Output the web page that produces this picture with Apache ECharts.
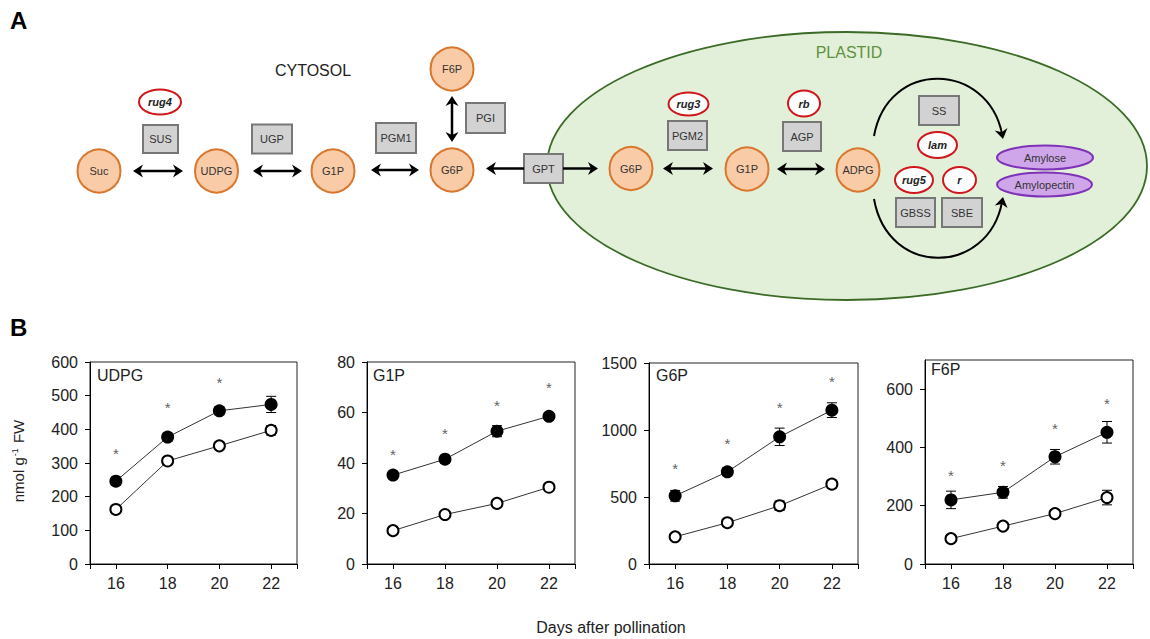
<!DOCTYPE html>
<html>
<head>
<meta charset="utf-8">
<script src="https://cdn.jsdelivr.net/npm/echarts@6/dist/echarts.min.js"></script>
<style>
html,body{margin:0;padding:0;background:#fff;}
#chart{width:1150px;height:639px;}
</style>
</head>
<body>
<div id="chart"></div>
<script>
// ---------------- DATA (panel B) ----------------
const days = [16, 18, 20, 22];
const panelNames = ['UDPG', 'G1P', 'G6P', 'F6P'];

const udpgFilled = [246, 377, 455, 474];
const udpgFilledErr = [12, 12, 12, 24];
const udpgOpen = [162, 306, 351, 397];
const udpgOpenErr = [8, 10, 10, 14];
const udpgStarDays = [16, 18, 20];
const udpgStarY = [341, 477, 551];
const udpgTicks = [0, 100, 200, 300, 400, 500, 600];

const g1pFilled = [35.2, 41.5, 52.6, 58.5];
const g1pFilledErr = [1.5, 1.5, 2.2, 1.5];
const g1pOpen = [13.2, 19.6, 24.0, 30.4];
const g1pOpenErr = [1.0, 1.0, 1.2, 1.0];
const g1pStarDays = [16, 18, 20, 22];
const g1pStarY = [45, 53.3, 64.5, 71.5];
const g1pTicks = [0, 20, 40, 60, 80];

const g6pFilled = [509, 688, 949, 1148];
const g6pFilledErr = [40, 30, 65, 55];
const g6pOpen = [203, 308, 435, 596];
const g6pOpenErr = [15, 20, 35, 30];
const g6pStarDays = [16, 18, 20, 22];
const g6pStarY = [745, 931, 1197, 1391];
const g6pTicks = [0, 500, 1000, 1500];

const f6pFilled = [220, 246, 368, 452];
const f6pFilledErr = [30, 20, 25, 37];
const f6pOpen = [87, 130, 173, 228];
const f6pOpenErr = [10, 10, 12, 25];
const f6pStarDays = [16, 18, 20, 22];
const f6pStarY = [317, 351, 477, 563];
const f6pTicks = [0, 200, 400, 600];

const xTicks = [15, 16, 18, 20, 22, 23];
const xMin = 15, xMax = 23;
const yMaxes = [600, 80, 1500, 700];

// ---------------- LAYOUT / STYLE ----------------
const FONT = '"Liberation Sans", Arial, Helvetica, sans-serif';
const panels = [
  {filled: udpgFilled, fErr: udpgFilledErr, open: udpgOpen, oErr: udpgOpenErr, sd: udpgStarDays, sy: udpgStarY, ticks: udpgTicks},
  {filled: g1pFilled, fErr: g1pFilledErr, open: g1pOpen, oErr: g1pOpenErr, sd: g1pStarDays, sy: g1pStarY, ticks: g1pTicks},
  {filled: g6pFilled, fErr: g6pFilledErr, open: g6pOpen, oErr: g6pOpenErr, sd: g6pStarDays, sy: g6pStarY, ticks: g6pTicks},
  {filled: f6pFilled, fErr: f6pFilledErr, open: f6pOpen, oErr: f6pOpenErr, sd: f6pStarDays, sy: f6pStarY, ticks: f6pTicks}
];
const gridBoxes = [
  {left: 90, top: 362, width: 207, height: 202},
  {left: 367, top: 362, width: 208, height: 202},
  {left: 649, top: 363, width: 209, height: 201},
  {left: 925, top: 360, width: 208, height: 204}
];
const titlePos = [[97, 375], [373, 375], [656, 375], [931, 369]];

// ---------------- PANEL A DIAGRAM (graphic) ----------------
const G = [];
const CIRC_FILL = '#f9cba7', CIRC_STROKE = '#d9772e';
const BOX_FILL = '#d2d2d2', BOX_STROKE = '#777777';
const GENE_STROKE = '#d0161b';

function txt(x, y, s, font, color, align) {
  G.push({type: 'text', x: x, y: y, z: 10,
    style: {text: s, font: font, fill: color || '#333', align: align || 'center', verticalAlign: 'middle'}});
}
function circleNode(cx, cy, label) {
  G.push({type: 'circle', shape: {cx: cx, cy: cy, r: 21.5}, z: 5,
    style: {fill: CIRC_FILL, stroke: CIRC_STROKE, lineWidth: 2}});
  txt(cx, cy, label, '11px ' + FONT, '#333');
}
function boxNode(cx, cy, w, h, label) {
  G.push({type: 'rect', shape: {x: cx - w / 2, y: cy - h / 2, width: w, height: h}, z: 5,
    style: {fill: BOX_FILL, stroke: BOX_STROKE, lineWidth: 2}});
  txt(cx, cy, label, '11px ' + FONT, '#333');
}
function geneNode(cx, cy, rx, ry, label) {
  G.push({type: 'ellipse', shape: {cx: cx, cy: cy, rx: rx, ry: ry}, z: 5,
    style: {fill: '#ffffff', stroke: GENE_STROKE, lineWidth: 2}});
  txt(cx, cy, label, 'italic bold 11px ' + FONT, '#222');
}
function head(tx, ty, dx, dy) {
  const L = 10, W = 6.5, N = 3;
  const bx = tx - dx * L, by = ty - dy * L, px = -dy, py = dx;
  G.push({type: 'polygon', z: 6, shape: {points: [
    [tx, ty], [bx + px * W, by + py * W], [tx - dx * (L - N), ty - dy * (L - N)], [bx - px * W, by - py * W]
  ]}, style: {fill: '#000'}});
}
function hArrow(x1, x2, y, both) {
  G.push({type: 'line', z: 6, shape: {x1: both ? x1 + 5 : x1, y1: y, x2: x2 - 5, y2: y}, style: {stroke: '#000', lineWidth: 2.5}});
  head(x2, y, 1, 0);
  if (both) head(x1, y, -1, 0);
}
function hArrowLeft(xFrom, xTip, y) {
  G.push({type: 'line', z: 6, shape: {x1: xFrom, y1: y, x2: xTip + 5, y2: y}, style: {stroke: '#000', lineWidth: 2.5}});
  head(xTip, y, -1, 0);
}
function vArrow(x, y1, y2) {
  G.push({type: 'line', z: 6, shape: {x1: x, y1: y1 + 5, x2: x, y2: y2 - 5}, style: {stroke: '#000', lineWidth: 2.5}});
  head(x, y2, 0, 1);
  head(x, y1, 0, -1);
}
function curveArrow(x1, y1, c1x, c1y, c2x, c2y, tx, ty) {
  let dx = tx - c2x, dy = ty - c2y; const l = Math.hypot(dx, dy); dx /= l; dy /= l;
  G.push({type: 'bezierCurve', z: 6, shape: {x1: x1, y1: y1, cpx1: c1x, cpy1: c1y, cpx2: c2x, cpy2: c2y, x2: tx - dx * 5, y2: ty - dy * 5},
    style: {stroke: '#000', lineWidth: 2, fill: 'none'}});
  head(tx, ty, dx, dy);
}

// plastid
G.push({type: 'ellipse', z: 1, shape: {cx: 847, cy: 166, rx: 300, ry: 134},
  style: {fill: '#e2efd9', stroke: '#3b6b27', lineWidth: 1.8}});
txt(849, 52, 'PLASTID', '16px ' + FONT, '#5e9140');
txt(313, 70, 'CYTOSOL', '16px ' + FONT, '#222');

// panel letters
txt(10, 20, 'A', 'bold 24px ' + FONT, '#000', 'left');
txt(10, 327, 'B', 'bold 24px ' + FONT, '#000', 'left');

// cytosol nodes
circleNode(99, 171, 'Suc');
circleNode(216.5, 171, 'UDPG');
circleNode(333, 171, 'G1P');
circleNode(452, 170, 'G6P');
circleNode(452, 69, 'F6P');
boxNode(160.5, 139, 35, 28, 'SUS');
boxNode(272, 139, 40, 29, 'UGP');
boxNode(396, 138, 40, 30, 'PGM1');
boxNode(485.5, 118, 39, 30, 'PGI');
boxNode(543.5, 168.5, 39, 29, 'GPT');
geneNode(160, 102, 21, 12.5, 'rug4');

hArrow(133, 183, 171, true);
hArrow(253, 302, 171, true);
hArrow(371, 419, 170, true);
vArrow(452, 96, 142);
hArrowLeft(524, 486, 168.5);
hArrow(563, 598, 168.5, false);

// plastid nodes
circleNode(631, 168.5, 'G6P');
circleNode(747, 169, 'G1P');
circleNode(858, 170, 'ADPG');
boxNode(687.5, 135.5, 39, 29, 'PGM2');
boxNode(802, 136.5, 38, 29, 'AGP');
boxNode(939, 110.5, 40, 29, 'SS');
boxNode(915.5, 212.5, 39, 29, 'GBSS');
boxNode(962, 212.5, 40, 29, 'SBE');
geneNode(688.5, 104, 20, 11.5, 'rug3');
geneNode(804, 103.5, 16, 13, 'rb');
geneNode(937.5, 145, 19.5, 13, 'lam');
geneNode(914, 180, 19, 13, 'rug5');
geneNode(959.5, 180, 16.5, 13, 'r');

hArrow(663, 713, 168.5, true);
hArrow(777, 825, 169, true);

curveArrow(874, 136, 888, 58, 988, 62, 1003, 139);
curveArrow(874, 199, 888, 278, 988, 276, 1003, 197);

G.push({type: 'ellipse', z: 5, shape: {cx: 1045, cy: 157.5, rx: 48, ry: 12}, style: {fill: '#cfa6ea', stroke: '#7e32b8', lineWidth: 2}});
txt(1045, 157.5, 'Amylose', '11px ' + FONT, '#333');
G.push({type: 'ellipse', z: 5, shape: {cx: 1044.5, cy: 184.5, rx: 47.5, ry: 12}, style: {fill: '#cfa6ea', stroke: '#7e32b8', lineWidth: 2}});
txt(1044.5, 184.5, 'Amylopectin', '11px ' + FONT, '#333');

// panel B titles / axis names
panelNames.forEach(function (n, i) {
  txt(titlePos[i][0], titlePos[i][1], n, '16px ' + FONT, '#222', 'left');
});
G.push({type: 'text', x: 18, y: 461, rotation: Math.PI / 2, z: 10,
  style: {text: '{a|nmol g}{s|-1}{a| FW}', align: 'center', verticalAlign: 'middle',
    rich: {a: {fontSize: 15, fontFamily: FONT, fill: '#222'}, s: {fontSize: 9, fontFamily: FONT, fill: '#222', verticalAlign: 'top', padding: [0, 1, 7, 1]}}}});
txt(611, 627, 'Days after pollination', '16px ' + FONT, '#222');

// ---------------- CHART ----------------
function errItem(params, api) {
  const x = api.value(0), y = api.value(1), e = api.value(2);
  const t = api.coord([x, y + e]), b = api.coord([x, y - e]);
  const hw = 5, st = {stroke: '#000', lineWidth: 1};
  return {type: 'group', children: [
    {type: 'line', shape: {x1: t[0], y1: t[1], x2: b[0], y2: b[1]}, style: st},
    {type: 'line', shape: {x1: t[0] - hw, y1: t[1], x2: t[0] + hw, y2: t[1]}, style: st},
    {type: 'line', shape: {x1: b[0] - hw, y1: b[1], x2: b[0] + hw, y2: b[1]}, style: st}
  ]};
}

const grids = [], xAxes = [], yAxes = [], series = [];
panels.forEach(function (p, i) {
  grids.push(Object.assign({show: true, borderColor: '#222', borderWidth: 1, backgroundColor: 'transparent', containLabel: false}, gridBoxes[i]));
  xAxes.push({gridIndex: i, type: 'value', min: xMin, max: xMax,
    axisLine: {show: true, lineStyle: {color: '#000', width: 1}},
    axisTick: {show: true, length: 5, customValues: xTicks, lineStyle: {color: '#000'}},
    axisLabel: {customValues: days, fontSize: 16, color: '#222', fontFamily: FONT, margin: 11,
      formatter: function (v) { return String(v); }},
    splitLine: {show: false}});
  yAxes.push({gridIndex: i, type: 'value', min: 0, max: yMaxes[i],
    axisLine: {show: true, lineStyle: {color: '#000', width: 1}},
    axisTick: {show: true, length: 5, customValues: p.ticks, lineStyle: {color: '#000'}},
    axisLabel: {customValues: p.ticks, fontSize: 16, color: '#222', fontFamily: FONT, margin: 12,
      formatter: function (v) { return String(v); }},
    splitLine: {show: false}});
  const fErrData = days.map(function (d, k) { return [d, p.filled[k], p.fErr[k]]; });
  const oErrData = days.map(function (d, k) { return [d, p.open[k], p.oErr[k]]; });
  series.push({type: 'custom', xAxisIndex: i, yAxisIndex: i, renderItem: errItem, data: fErrData.concat(oErrData), z: 1, silent: true});
  series.push({type: 'line', xAxisIndex: i, yAxisIndex: i, z: 3,
    data: days.map(function (d, k) { return [d, p.open[k]]; }),
    symbol: 'circle', symbolSize: 11, showAllSymbol: true,
    lineStyle: {color: '#333', width: 1},
    itemStyle: {color: '#fff', borderColor: '#000', borderWidth: 2}});
  series.push({type: 'line', xAxisIndex: i, yAxisIndex: i, z: 3,
    data: days.map(function (d, k) { return [d, p.filled[k]]; }),
    symbol: 'circle', symbolSize: 13, showAllSymbol: true,
    lineStyle: {color: '#333', width: 1},
    itemStyle: {color: '#000', borderColor: '#000', borderWidth: 0}});
  series.push({type: 'scatter', xAxisIndex: i, yAxisIndex: i, z: 4,
    data: p.sd.map(function (d, k) { return [d, p.sy[k]]; }),
    symbolSize: 1, itemStyle: {color: 'rgba(0,0,0,0)'},
    label: {show: true, position: 'inside', formatter: '*', fontSize: 15, color: '#333',
      textBorderWidth: 0, textBorderColor: 'transparent', textShadowBlur: 0,
      fontFamily: FONT, offset: [0, 4]}});
});

const chart = echarts.init(document.getElementById('chart'), null, {renderer: 'svg', width: 1150, height: 639});
chart.setOption({
  animation: false,
  backgroundColor: '#ffffff',
  grid: grids,
  xAxis: xAxes,
  yAxis: yAxes,
  series: series,
  graphic: {elements: G}
});
</script>
</body>
</html>
